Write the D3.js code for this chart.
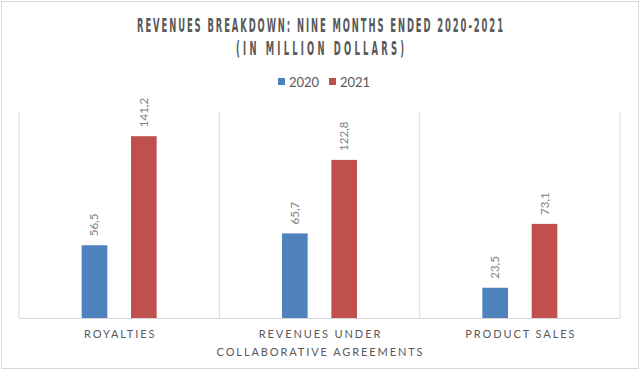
<!DOCTYPE html>
<html>
<head>
<meta charset="utf-8">
<style>
    body { margin: 0; background: #fff; }
    svg { display: block; }
    .title { font-family: "DejaVu Sans Condensed", sans-serif; font-weight: bold; font-size: 19.5px; fill: #595959; }
    .legend text { font-family: Lato, "Open Sans", sans-serif; font-size: 13px; fill: #595959; }
    .value { font-family: Lato, "Open Sans", sans-serif; font-size: 11.5px; fill: #808080; }
    .cat { font-family: Lato, "Open Sans", sans-serif; font-size: 11px; fill: #595959; letter-spacing: 1.9px; }
</style>
</head>
<body>
<svg width="640" height="370"></svg>
<script src="https://d3js.org/d3.v7.min.js"></script>
<script>
    let width = 640, height = 370;
    let svg = d3.select("svg");

    // data
    let categories = ["ROYALTIES", "REVENUES UNDER|COLLABORATIVE AGREEMENTS", "PRODUCT SALES"];
    let series = ["2020", "2021"];
    let values2020 = [56.5, 65.7, 23.5];
    let values2021 = [141.2, 122.8, 73.1];
    let colors = ["#4f81bd", "#c0504d"];

    let margin = { top: 112, right: 20, bottom: 52, left: 19 };

    // outer border
    svg.append("rect")
        .attr("x", 1.5).attr("y", 1.5)
        .attr("width", width - 3).attr("height", height - 3)
        .attr("fill", "#fff").attr("stroke", "#d9d9d9");

    let x = d3.scaleBand()
        .domain(categories)
        .range([margin.left, width - margin.right]);

    let x1 = d3.scaleBand()
        .domain(series)
        .range([0, x.bandwidth()])
        .paddingInner(0.48)
        .paddingOuter(1.27);

    let y = d3.scaleLinear()
        .domain([0, 160])
        .range([height - margin.bottom, margin.top]);

    // separators between categories
    let bounds = categories.map(c => x(c)).concat([x.range()[1]]);
    svg.append("g").selectAll("line")
        .data(bounds)
        .join("line")
        .attr("x1", d => d).attr("x2", d => d)
        .attr("y1", y(160)).attr("y2", y(0))
        .attr("stroke", "#d9d9d9").attr("stroke-width", 1);

    // baseline
    svg.append("line")
        .attr("x1", x.range()[0]).attr("x2", x.range()[1])
        .attr("y1", y(0) + 0.5).attr("y2", y(0) + 0.5)
        .attr("stroke", "#d9d9d9");

    let rows = [];
    categories.forEach((c, i) => {
        rows.push({ cat: c, s: "2020", v: values2020[i] });
        rows.push({ cat: c, s: "2021", v: values2021[i] });
    });

    svg.append("g").selectAll("rect")
        .data(rows)
        .join("rect")
        .attr("x", d => x(d.cat) + x1(d.s))
        .attr("width", x1.bandwidth())
        .attr("y", d => y(d.v))
        .attr("height", d => y(0) - y(d.v))
        .attr("fill", d => colors[series.indexOf(d.s)]);

    // rotated value labels
    svg.append("g").selectAll("text")
        .data(rows)
        .join("text")
        .attr("class", "value")
        .attr("transform", d => `translate(${x(d.cat) + x1(d.s) + x1.bandwidth() / 2 + 4},${y(d.v) - 9}) rotate(-90)`)
        .text(d => d3.format(".1f")(d.v).replace(".", ","));

    // category labels
    let catLabels = svg.append("g").selectAll("text")
        .data(categories)
        .join("text")
        .attr("class", "cat")
        .attr("text-anchor", "middle")
        .attr("x", d => x(d) + x.bandwidth() / 2)
        .attr("y", 338);
    catLabels.each(function (d) {
        let parts = d.split("|");
        d3.select(this).selectAll("tspan")
            .data(parts)
            .join("tspan")
            .attr("x", x(d) + x.bandwidth() / 2 + 1)
            .attr("dy", (p, i) => i == 0 ? 0 : 18)
            .text(p => p);
    });

    // title: narrow glyphs, wide tracking
    let sx = 0.48;
    let titleLines = [
        { t: "REVENUES BREAKDOWN: NINE MONTHS ENDED 2020-2021", w: 366, y: 32 },
        { t: "(IN MILLION DOLLARS)", w: 168, y: 55 }
    ];
    titleLines.forEach(l => {
        svg.append("g")
            .attr("transform", `translate(${width / 2},${l.y}) scale(${sx},1)`)
            .append("text").attr("class", "title")
            .attr("x", -l.w / sx / 2).attr("y", 0)
            .attr("textLength", l.w / sx).attr("lengthAdjust", "spacing")
            .text(l.t);
    });

    // legend
    let legend = svg.append("g").attr("class", "legend");
    let lx = [278, 329];
    series.forEach((s, i) => {
        legend.append("rect")
            .attr("x", lx[i]).attr("y", 78)
            .attr("width", 7).attr("height", 7)
            .attr("fill", colors[i]);
        legend.append("text")
            .attr("x", lx[i] + 11).attr("y", 86.5)
            .text(s);
    });
</script>
</body>
</html>
